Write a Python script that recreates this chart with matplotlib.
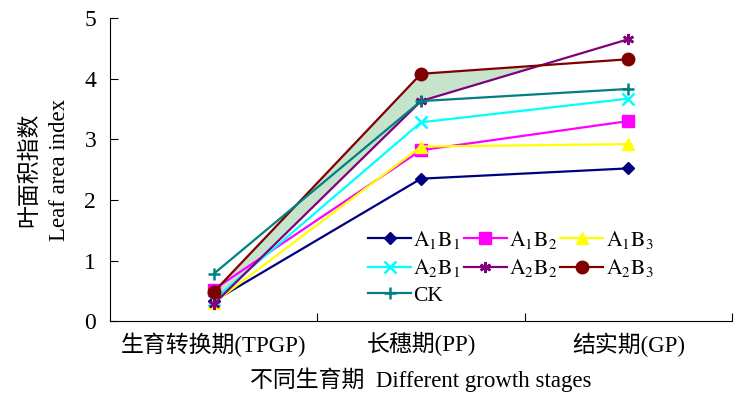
import numpy as np
import matplotlib
matplotlib.use("Agg")
import matplotlib.pyplot as plt

plt.rcParams['font.family'] = ['Liberation Serif', 'Noto Sans CJK SC']
plt.rcParams['mathtext.fontset'] = 'stix'

stages = ["生育转换期(TPGP)", "长穗期(PP)", "结实期(GP)"]
labels = [r"$\mathrm{A_1B_1}$", r"$\mathrm{A_1B_2}$", r"$\mathrm{A_1B_3}$",
          r"$\mathrm{A_2B_1}$", r"$\mathrm{A_2B_2}$", r"$\mathrm{A_2B_3}$", "CK"]
a1b1 = [0.33, 2.35, 2.52]
a1b2 = [0.52, 2.82, 3.30]
a1b3 = [0.30, 2.88, 2.92]
a2b1 = [0.35, 3.28, 3.67]
a2b2 = [0.28, 3.63, 4.65]
a2b3 = [0.48, 4.08, 4.32]
ck = [0.78, 3.63, 3.83]

series = [a1b1, a1b2, a1b3, a2b1, a2b2, a2b3, ck]
colors = ['#000080', '#ff00ff', '#ffff00', '#00ffff', '#800080', '#800000', '#008080']
markers = ['D', 's', '^', 'x', (6, 2, 0), 'o', '+']
msizes = [6, 8, 8, 8, 8, 9, 9]

fig = plt.figure(figsize=(7.36, 3.96), dpi=100)
ax = fig.add_axes([0.1495, 0.189, 0.845, 0.7655])

x = np.arange(len(stages))
# shaded area between A2B3 and A2B2
xf = np.linspace(0, 2, 401)
r = np.interp(xf, x, a2b3)
p = np.interp(xf, x, a2b2)
ax.fill_between(xf, r, p, where=r >= p, interpolate=True, color='#c6e3cc', lw=0, zorder=1)

lines = []
for vals, lab, c, m, ms in zip(series, labels, colors, markers, msizes):
    ln, = ax.plot(x, vals, color=c, marker=m, markersize=ms, lw=1.6, label=lab,
                  markeredgewidth=1.8 if m in ('x', '+') or isinstance(m, tuple) else 1, zorder=3)
    lines.append(ln)

ax.set_xlim(-0.5, 2.5)
ax.set_ylim(0, 5)
ax.set_xticks([0.5, 1.5, 2.5])
ax.set_xticks(x, minor=True)
ax.set_xticklabels([])
ax.set_xticklabels(stages, minor=True)
ax.tick_params(axis='x', which='major', direction='in', length=6)
ax.tick_params(axis='x', which='minor', length=0, pad=8, labelsize=16.5)
ax.set_yticks(range(6))
ax.tick_params(axis='y', direction='in', length=6, labelsize=17, pad=10)
for s in ['top', 'right']:
    ax.spines[s].set_visible(False)
ax.set_ylabel("叶面积指数\nLeaf area index", fontsize=16.5, labelpad=10, linespacing=1.6)
ax.set_xlabel("不同生育期  Different growth stages", fontsize=16.5, labelpad=8)

# legend laid out row by row
order = [0, 3, 6, 1, 4, 2, 5]
ax.legend([lines[i] for i in order], [labels[i] for i in order], ncol=3,
          loc='upper left', bbox_to_anchor=(0.415, 0.305), frameon=False,
          fontsize=15.5, handlelength=2.0, handletextpad=0.1, columnspacing=0.15,
          labelspacing=0.3, borderpad=0, borderaxespad=0)

fig.savefig("out.png", dpi=100)
